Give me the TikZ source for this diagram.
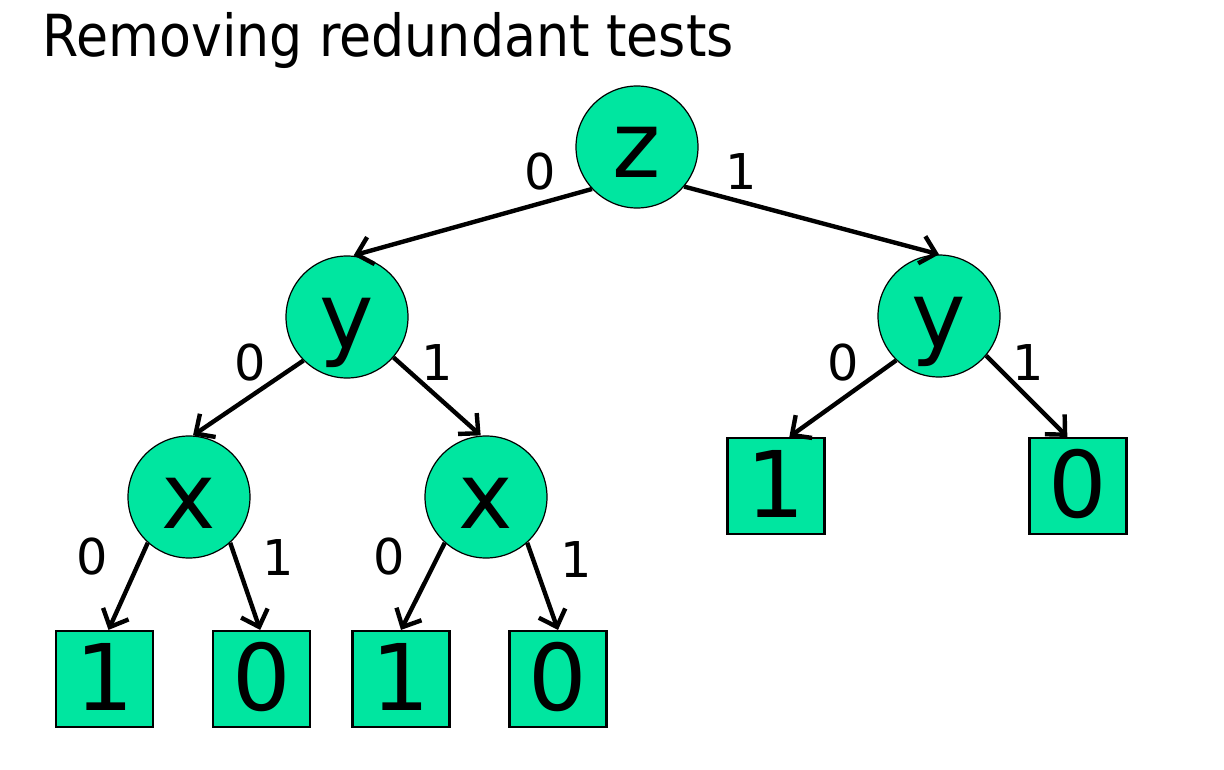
\documentclass[tikz,border=0pt]{standalone}
\usepackage{fontspec}
\setmainfont{DejaVu Sans}
\usetikzlibrary{arrows.meta}
\definecolor{nodegreen}{RGB}{0,230,160}
\begin{document}
\begin{tikzpicture}[x=0.75pt,y=-0.75pt,
  test/.style={circle,draw=black,line width=0.9pt,fill=nodegreen,minimum size=91.5pt,inner sep=0pt,
    font=\fontsize{69}{80}\selectfont,text height=46.5pt,text depth=0pt},
  leaf/.style={rectangle,draw=black,line width=1.6pt,fill=nodegreen,minimum width=72.75pt,minimum height=72pt,inner sep=0pt,
    font=\fontsize{69}{80}\selectfont,text height=46.5pt,text depth=0pt},
  lbl/.style={inner sep=0pt,font=\fontsize{37}{44}\selectfont},
  edge/.style={line width=3.3pt,-{Straight Barb[length=11pt,width=21pt,line width=3.3pt]}}]
\useasboundingbox (0,0) rectangle (1224,770);
\node[anchor=base west,inner sep=0pt,font=\fontsize{43.5}{52}\selectfont] (title) at (42,57) {\scalebox{0.9}[1]{Removing redundant tests}};
\node[test] (z) at (637,147) {z};
\node[test] (yL) at (347,317) {y};
\node[test] (yR) at (939,316) {y};
\node[test] (xL) at (189,497) {x};
\node[test] (xM) at (486,497) {x};
\node[leaf] (a1) at (104.5,679) {1};
\node[leaf] (a0) at (261.5,679) {0};
\node[leaf] (b1) at (401,679) {1};
\node[leaf] (b0) at (558,679) {0};
\node[leaf] (r1) at (776,486) {1};
\node[leaf] (r0) at (1078,486) {0};
\draw[edge] (z.223) -- ([xshift=5]yL.north);
\draw[edge] (z.320) -- (yR.north);
\draw[edge] (yL.225) -- ([xshift=3]xL.north);
\draw[edge] (yL.319) -- ([xshift=-4]xM.north);
\draw[edge] (yR.226) -- ([xshift=10]r1.north);
\draw[edge] (yR.320) -- ([xshift=-8]r0.north);
\draw[edge] (xL.228) -- ([xshift=3]a1.north);
\draw[edge] (xL.312) -- ([xshift=-1]a0.north);
\draw[edge] (xM.228) -- (b1.north);
\draw[edge] (xM.312) -- (b0.north);
\node[lbl] (l1) at (540,172) {0};
\node[lbl] (l2) at (741,172) {1};
\node[lbl] (l3) at (250,363) {0};
\node[lbl] (l4) at (437,363) {1};
\node[lbl] (l5) at (843,363) {0};
\node[lbl] (l6) at (1028,363) {1};
\node[lbl] (l7) at (92,557) {0};
\node[lbl] (l8) at (278,558) {1};
\node[lbl] (l9) at (389,557) {0};
\node[lbl] (l10) at (576,560) {1};
\end{tikzpicture}
\end{document}
